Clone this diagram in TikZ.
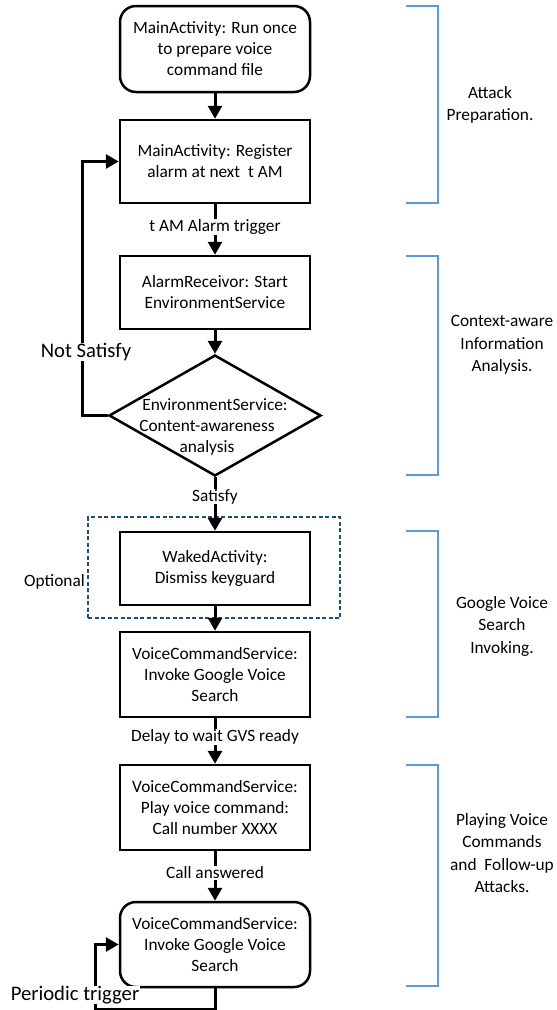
\documentclass[tikz,border=0pt]{standalone}
\usepackage{fontspec}
\setmainfont{Carlito}
\usetikzlibrary{arrows.meta,shapes.geometric}
\definecolor{brk}{HTML}{5B9BD5}
\definecolor{optc}{HTML}{1F4E79}
\begin{document}
\begin{tikzpicture}[x=1pt,y=-1pt,
  every node/.style={font=\fontsize{17.3}{21}\selectfont},
  box/.style={draw, line width=2.5pt, minimum width=190pt, align=center, inner sep=0pt},
  rbox/.style={box, rounded corners=16pt},
  arr/.style={line width=3pt, -{Triangle[width=14pt,length=13pt]}},
  lbl/.style={fill=white, inner sep=0.5pt},
  bigl/.style={lbl, font=\fontsize{20.7}{24}\selectfont},
  brace/.style={draw=brk, line width=1.5pt},
  side/.style={align=center, font=\fontsize{17.3}{22.5}\selectfont}]
\useasboundingbox (0,0) rectangle (557,1010);

% boxes
\node[rbox, minimum height=86pt] (b1) at (215,49) {MainActivity: Run once\\to prepare voice\\command file};
\node[box, minimum height=83pt] (b2) at (215,161.5) {MainActivity: Register\\alarm at next\ \ t AM};
\node[box, minimum height=73pt] (b3) at (215,292.5) {AlarmReceivor: Start\\EnvironmentService};
\node[draw, diamond, line width=2.5pt, minimum width=212pt, minimum height=121pt, inner sep=0pt] (d) at (215,415.5) {};
\node[align=center] (dt) at (215,427) {EnvironmentService:\\Content-awareness\rule{16pt}{0pt}\\analysis\rule{16pt}{0pt}};

\node[draw=optc, dashed, dash pattern=on 4pt off 2.5pt, line width=1.5pt, minimum width=252pt, minimum height=101pt, inner sep=0pt] (opt) at (214,567.5) {};
\node (optl) at (54.5,582) {Optional};

\node[box, minimum height=73pt] (b4) at (215,568.5) {WakedActivity:\\Dismiss keyguard};
\node[box, minimum height=85pt] (b5) at (215,674.5) {VoiceCommandService:\\Invoke Google Voice\\Search};
\node[box, minimum height=85pt] (b6) at (215,807.5) {VoiceCommandService:\\Play voice command:\\Call number XXXX};
\node[rbox, minimum height=85pt] (b7) at (215,944.5) {VoiceCommandService:\\Invoke Google Voice\\Search};

% connectors
\draw[arr] (b1) -- (b2);
\draw[arr] (b2) -- node[lbl, pos=0.45] {t AM Alarm trigger} (b3);
\draw[arr] (b3) -- (d);
\draw[arr] (d) -- node[lbl, pos=0.36] {Satisfy} (b4);
\draw[arr] (b4) -- (b5);
\draw[arr] (b5) -- node[lbl, pos=0.42] {Delay to wait GVS ready} (b6);
\draw[arr] (b6) -- node[lbl, pos=0.44] {Call answered} (b7);
\draw[arr] (d.west) -- ++(-25,0) |- (b2.west);
\node[bigl] (ns) at (86,352) {Not Satisfy};
\draw[arr] (b7.south) -- ++(0,21) -| ([xshift=-23pt]b7.west) -- (b7.west);
\node[bigl] (pt) at (75,995) {Periodic trigger};

% brackets
\draw[brace] (406,6) -- (438,6) -- (438,203) -- (406,203);
\draw[brace] (406,256) -- (438,256) -- (438,475) -- (406,475);
\draw[brace] (406,531) -- (438,531) -- (438,717) -- (406,717);
\draw[brace] (406,765) -- (438,765) -- (438,986) -- (406,986);

% side labels
\node[side] (s1) at (490,105) {Attack\\Preparation.};
\node[side] (s2) at (502,345) {Context-aware\\Information\\Analysis.};
\node[side] (s3) at (502,626) {Google Voice\\Search\\Invoking.};
\node[side] (s4) at (502,853) {Playing Voice\\Commands\\and\ \ Follow-up\\Attacks.};
\end{tikzpicture}
\end{document}
